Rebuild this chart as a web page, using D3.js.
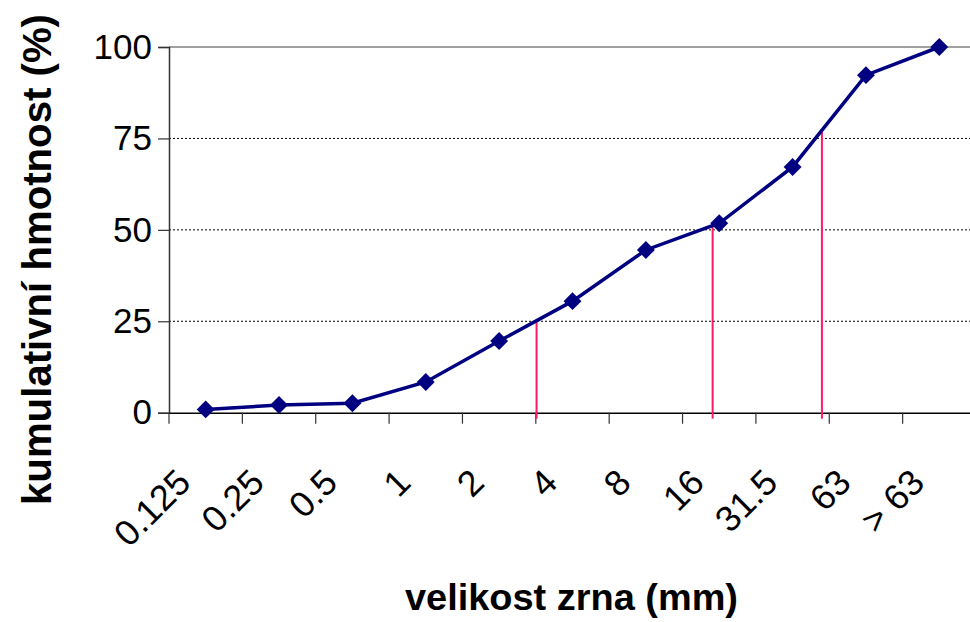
<!DOCTYPE html>
<html>
<head>
<meta charset="utf-8">
<script src="https://cdn.jsdelivr.net/npm/d3@7"></script>
<style>
  body { margin: 0; background: #fff; }
  svg { display: block; font-family: Arial, "Liberation Sans", sans-serif; }
</style>
</head>
<body>
<svg id="chart" width="970" height="622"></svg>
<script>
// grain size classes (mm) and cumulative mass (%)
const sizes = ["0.125", "0.25", "0.5", "1", "2", "4", "8", "16", "31.5", "63", "> 63"];
const cumulative = [0.9, 2.1, 2.6, 8.4, 19.6, 30.5, 44.5, 51.8, 67.2, 92.3, 100];
const yTicks = [0, 25, 50, 75, 100];
// reading lines: position in class index units
const readPos = [4.51, 6.91, 8.40];
const readVal = [25, 51.2, 77.4];

const svg = d3.select("#chart");
const plotLeft = 169, plotRight = 976, plotTop = 47, plotBottom = 412.7;

const x = d3.scaleBand()
    .domain(sizes)
    .range([plotLeft, plotRight])
    .paddingInner(0).paddingOuter(0);
const xi = d3.scaleLinear()
    .domain([0, sizes.length - 1])
    .range([x(sizes[0]) + x.bandwidth() / 2, x(sizes[sizes.length - 1]) + x.bandwidth() / 2]);
const y = d3.scaleLinear()
    .domain([0, 100])
    .range([plotBottom, plotTop]);

// gridlines
svg.append("g")
    .selectAll("line")
    .data(yTicks.filter(d => d > 0))
    .enter()
    .append("line")
    .attr("x1", plotLeft)
    .attr("x2", 970)
    .attr("y1", d => y(d))
    .attr("y2", d => y(d))
    .attr("stroke", d => d === 100 ? "#808080" : "#000")
    .attr("stroke-width", d => d === 100 ? 1.5 : 1)
    .attr("stroke-dasharray", d => d === 100 ? null : "2,2");

// y axis
const yAxis = d3.axisLeft(y).tickValues(yTicks).tickSize(11).tickPadding(6);
const gy = svg.append("g")
    .attr("transform", `translate(${plotLeft},0)`)
    .call(yAxis);
gy.select(".domain").attr("stroke", "#333").attr("stroke-width", 1.5);
gy.selectAll(".tick line").attr("stroke", "#333").attr("stroke-width", 1.2);
gy.selectAll(".tick text")
    .attr("font-size", "35px")
    .attr("font-family", "Arial, 'Liberation Sans', sans-serif")
    .attr("fill", "#000");

// x axis
const xAxis = d3.axisBottom(x).tickSize(0).tickFormat("");
const gx = svg.append("g")
    .attr("transform", `translate(0,${plotBottom})`)
    .call(xAxis);
gx.select(".domain").attr("stroke", "#000").attr("stroke-width", 1.5);

// tick marks at band boundaries
svg.append("g")
    .selectAll("line")
    .data(sizes)
    .enter()
    .append("line")
    .attr("x1", d => x(d))
    .attr("x2", d => x(d))
    .attr("y1", plotBottom)
    .attr("y2", plotBottom + 11)
    .attr("stroke", "#333")
    .attr("stroke-width", 1.2);

// rotated category labels
svg.append("g")
    .selectAll("text")
    .data(sizes)
    .enter()
    .append("text")
    .attr("transform", d => `translate(${x(d) + x.bandwidth() / 2 - 13},${plotBottom + 72}) rotate(-45)`)
    .attr("text-anchor", "end")
    .attr("font-size", "36px")
    .text(d => d);

// reading lines
svg.append("g")
    .selectAll("line")
    .data(readPos)
    .enter()
    .append("line")
    .attr("x1", d => xi(d))
    .attr("x2", d => xi(d))
    .attr("y1", (d, i) => y(readVal[i]))
    .attr("y2", plotBottom + 6)
    .attr("stroke", "#ff1a66")
    .attr("stroke-width", 2);

// curve
const line = d3.line()
    .x((d, i) => x(sizes[i]) + x.bandwidth() / 2)
    .y(d => y(d));
svg.append("path")
    .datum(cumulative)
    .attr("d", line)
    .attr("fill", "none")
    .attr("stroke", "#000080")
    .attr("stroke-width", 3.5);

// diamond markers
svg.append("g")
    .selectAll("path")
    .data(cumulative)
    .enter()
    .append("path")
    .attr("d", d3.symbol().type(d3.symbolSquare).size(160))
    .attr("transform", (d, i) => `translate(${x(sizes[i]) + x.bandwidth() / 2},${y(d)}) rotate(45)`)
    .attr("fill", "#000080");

// axis titles
svg.append("text")
    .attr("x", 405)
    .attr("y", 610)
    .attr("font-size", "36px")
    .attr("font-weight", "bold")
    .attr("textLength", 333)
    .attr("lengthAdjust", "spacingAndGlyphs")
    .text("velikost zrna (mm)");

svg.append("text")
    .attr("transform", "translate(51,505) rotate(-90)")
    .attr("font-size", "41px")
    .attr("font-weight", "bold")
    .attr("textLength", 491)
    .attr("lengthAdjust", "spacingAndGlyphs")
    .text("kumulativní hmotnost (%)");
</script>
</body>
</html>
